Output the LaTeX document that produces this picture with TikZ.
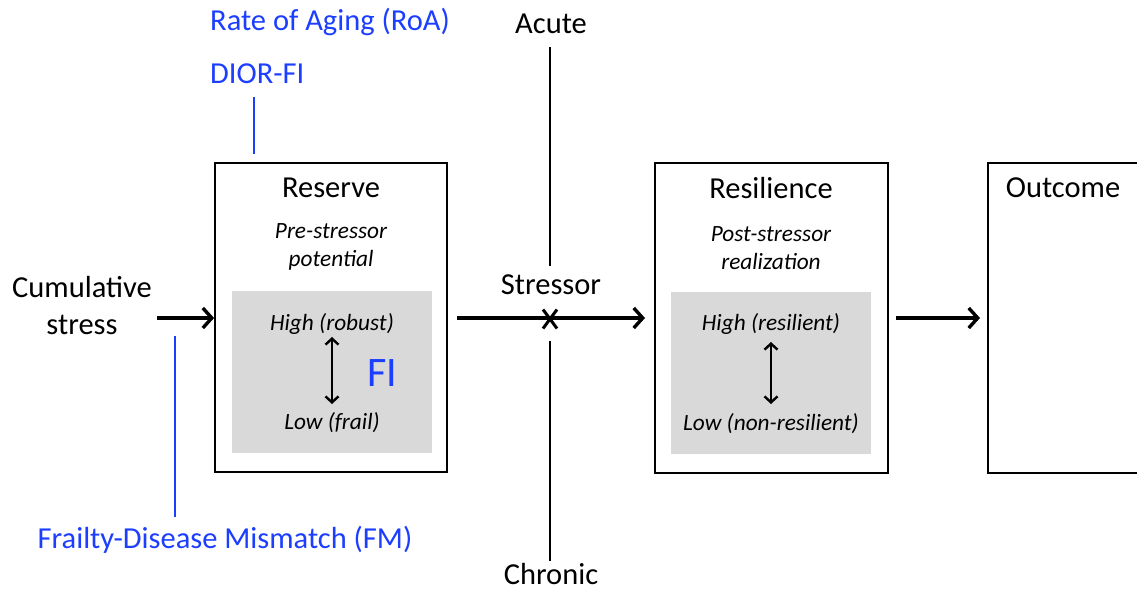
\documentclass[tikz,border=0pt]{standalone}
\usepackage{fontspec}
\setmainfont{Carlito}
\usetikzlibrary{arrows.meta,shapes.misc}
\definecolor{fblue}{RGB}{28,62,255}
\definecolor{fgray}{RGB}{217,217,217}
\tikzset{
  box/.style={draw=black, line width=1.8pt, fill=white, inner sep=0pt},
  graybox/.style={fill=fgray, draw=none, inner sep=0pt, minimum width=200pt, minimum height=162pt},
  title/.style={font=\fontsize{30.5}{36}\selectfont, inner sep=0pt},
  sub/.style={font=\fontsize{23.3}{27.5}\selectfont\itshape, inner sep=0pt, align=center},
  lbl/.style={font=\fontsize{30.5}{37}\selectfont, inner sep=0pt, align=center},
  bluelbl/.style={font=\fontsize{30.5}{36}\selectfont, text=fblue, inner sep=0pt},
  arr/.style={line width=3.5pt, -{Straight Barb[length=9pt,width=20pt,line width=3.4pt]}},
  darr/.style={line width=2.4pt, {Straight Barb[length=6pt,width=13pt,line width=2.4pt]}-{Straight Barb[length=6pt,width=13pt,line width=2.4pt]}},
  bline/.style={draw=fblue, line width=1.6pt},
  kline/.style={draw=black, line width=1.3pt}
}
\begin{document}
\begin{tikzpicture}[x=1pt,y=-1pt]
\clip (0,0) rectangle (1137,592);
\fill[white] (0,0) rectangle (1137,592);

% Reserve
\node[box, minimum width=232pt, minimum height=309pt] (res) at (331,317.5) {};
\node[graybox] (resg) at (332,372) {};
\node[title] (restitle) at (331,188) {Reserve};
\node[sub] (ressub) at (331,247) {Pre-stressor\\potential};
\node[sub] (hi1) at (332,324) {High (robust)};
\node[sub] (lo1) at (332,423) {Low (frail)};
\draw[darr] (332,337) -- (332,404);
\node[font=\fontsize{42}{46}\selectfont, text=fblue, inner sep=0pt] (fi) at (382,373) {FI};

% Resilience
\node[box, minimum width=233pt, minimum height=310pt] (resil) at (771.5,318) {};
\node[graybox] (resilg) at (771,372.5) {};
\node[title] (resiltitle) at (771,188) {Resilience};
\node[sub] (resilsub) at (771,248) {Post-stressor\\realization};
\node[sub] (hi2) at (771,324) {High (resilient)};
\node[sub] (lo2) at (771,424) {Low (non-resilient)};
\draw[darr] (771,342) -- (771,404);

% Outcome
\node[box, minimum width=240pt, minimum height=310pt] (out) at (1108,318) {};
\node[title] (outtitle) at (1063,188) {Outcome};

% Cumulative stress
\node[lbl] (cum) at (82,306) {Cumulative\\stress};
\coordinate (cumend) at (157,318);
\draw[arr] (cumend) -- (res.west |- cumend);

% Stressor
\node[title] (acute) at (551,24) {Acute};
\node[title] (chronic) at (551,574) {Chronic};
\node[title] (stressor) at (551,285) {Stressor};
\coordinate (a1) at (550,47);
\coordinate (a2) at (550,266);
\coordinate (c1) at (550,341);
\coordinate (c2) at (550,561);
\draw[kline] (a1) -- (a2);
\draw[kline] (c1) -- (c2);
\coordinate (s1) at (457,318);
\coordinate (s2) at (645,318);
\draw[arr] (s1) -- (s2);
\node[cross out, draw=black, line width=3pt, minimum width=11pt, minimum height=16pt, inner sep=0pt] (x) at (550,319) {};

% To outcome
\coordinate (o1) at (896,318);
\coordinate (o2) at (980,318);
\draw[arr] (o1) -- (o2);

% Blue labels
\node[bluelbl, anchor=west] (roa) at (210,22) {Rate of Aging (RoA)};
\node[bluelbl, anchor=west] (dior) at (210,74) {DIOR-FI};
\coordinate (d1) at (254,97);
\coordinate (d2) at (254,154);
\draw[bline] (d1) -- (d2);
\node[bluelbl] (fm) at (225,540) {Frailty-Disease Mismatch (FM)};
\coordinate (f1) at (175,336);
\coordinate (f2) at (175,517);
\draw[bline] (f1) -- (f2);
\end{tikzpicture}
\end{document}
